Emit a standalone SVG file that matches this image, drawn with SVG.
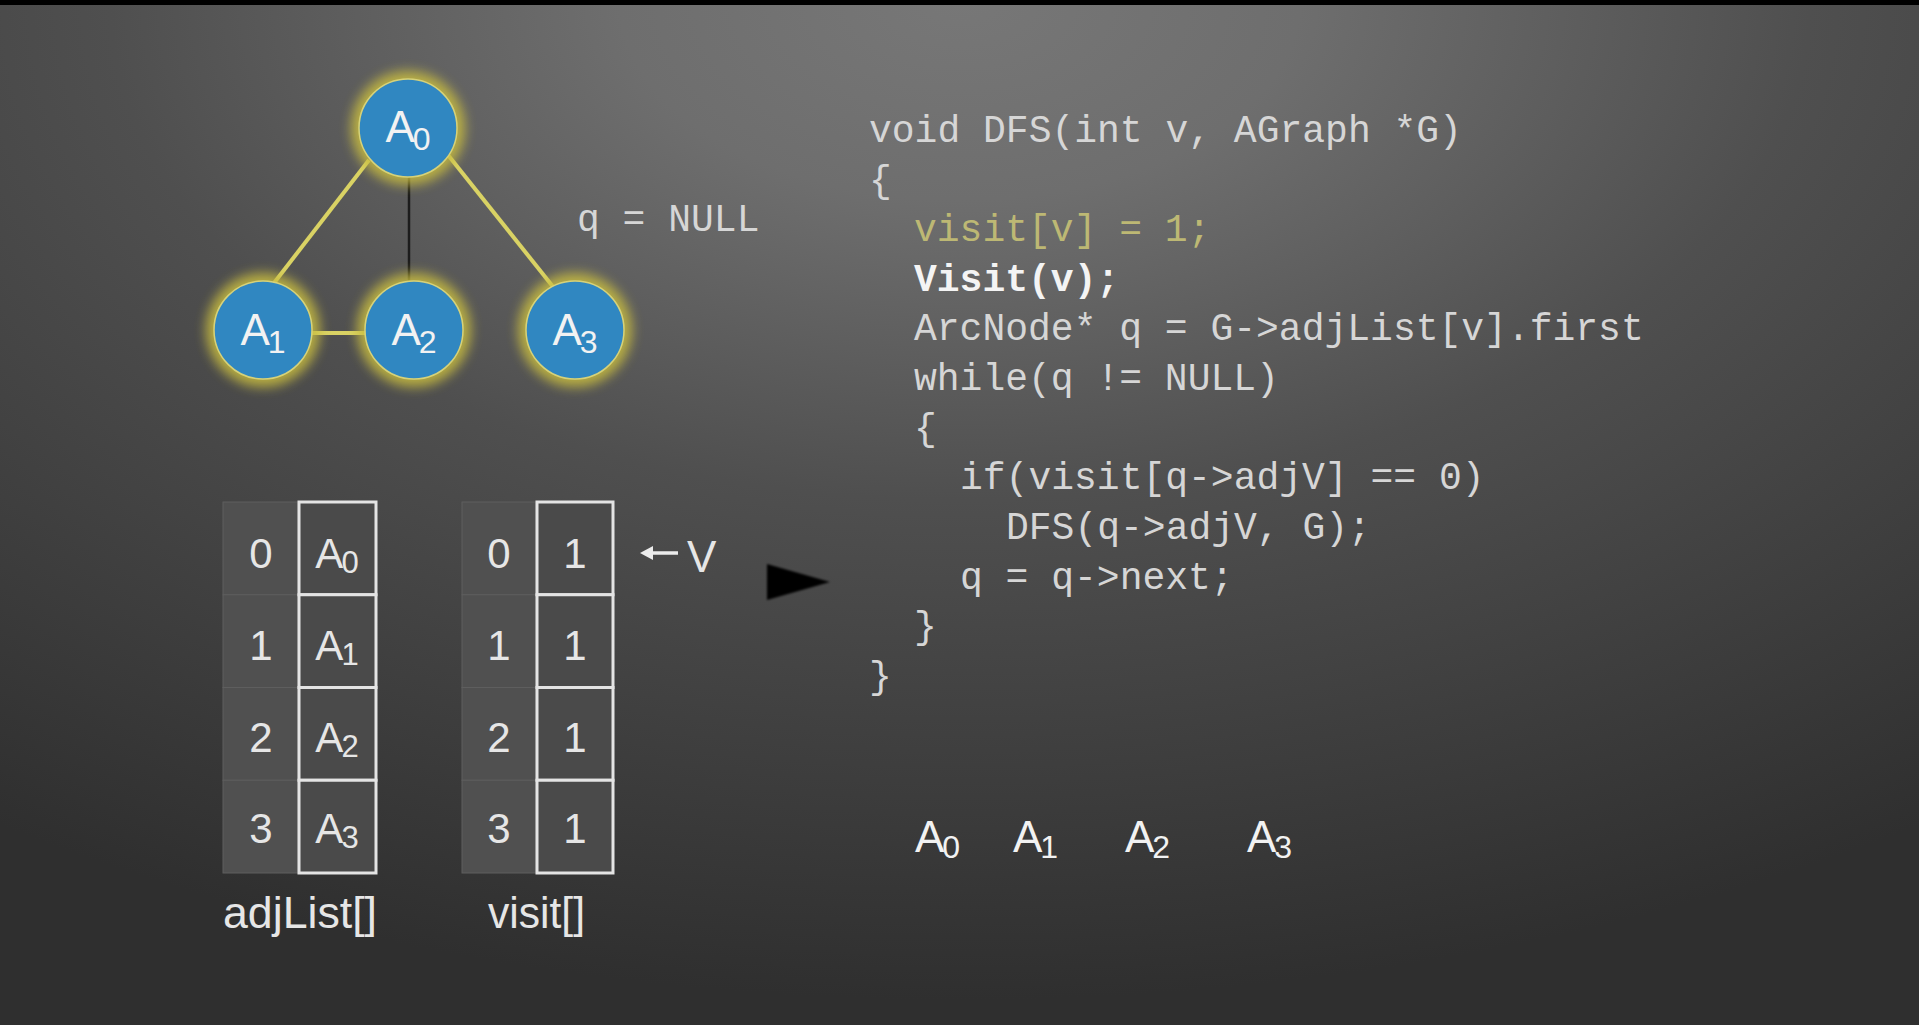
<svg xmlns="http://www.w3.org/2000/svg" width="1919" height="1025" viewBox="0 0 1919 1025">
  <defs>
    <radialGradient id="bg" gradientUnits="userSpaceOnUse" cx="960" cy="0" r="1000" gradientTransform="translate(960 0) scale(1.7 1) translate(-960 0)">
      <stop offset="0" stop-color="#777777"/>
      <stop offset="0.2" stop-color="#6e6e6e"/>
      <stop offset="0.5" stop-color="#4f4f4f"/>
      <stop offset="1" stop-color="#2f2f2f"/>
    </radialGradient>
    <filter id="halo" x="-50%" y="-50%" width="200%" height="200%">
      <feGaussianBlur stdDeviation="6"/>
    </filter>
    <filter id="soft" x="-20%" y="-20%" width="140%" height="140%">
      <feGaussianBlur stdDeviation="1"/>
    </filter>
    <style>
      .edge-hi { stroke: #d9d264; stroke-width: 4; fill: none; stroke-linecap: butt; }
      .edge-lo { stroke: #1c1c1c; stroke-width: 2.5; fill: none; }
      .glow { fill: #c9bd40; filter: url(#halo); opacity: 0.85; }
      .disc { fill: #3087c1; stroke: #d6d27a; stroke-width: 1.5; }
      .lbl { font-family: "Liberation Sans", Arial, sans-serif; font-size: 44px; fill: #f2f2f2; }
      .sub { font-size: 32px; }
      .code { font-family: "Liberation Mono", "Courier New", monospace; font-size: 38px; fill: #d6d6d6; }
      .hl { fill: #bdb874; }
      .bold { font-weight: bold; fill: #f4f4f4; }
      .idx { fill: #505050; stroke: #5e5e5e; stroke-width: 1; }
      .val { fill: #4a4a4a; stroke: #e4e4e4; stroke-width: 3; }
      .cell { font-family: "Liberation Sans", Arial, sans-serif; font-size: 42px; fill: #e6e6e6; text-anchor: middle; }
      .csub { font-size: 31px; }
      .cap { font-family: "Liberation Sans", Arial, sans-serif; font-size: 44px; fill: #e6e6e6; }
    </style>
  </defs>

  <!-- backdrop -->
  <rect x="0" y="0" width="1919" height="1025" fill="url(#bg)"/>
  <rect x="0" y="0" width="1919" height="5" fill="#000"/>

  <!-- graph edges -->
  <g id="connectors">
    <line class="edge-hi" x1="369" y1="160" x2="274" y2="283"/>
    <line class="edge-lo" x1="409" y1="176" x2="409" y2="282"/>
    <line class="edge-hi" x1="448" y1="155" x2="554" y2="288"/>
    <line class="edge-hi" x1="311" y1="333" x2="366" y2="333"/>
    <!-- pointer arrow next to the visit table -->
    <path d="M640 553 L653 546 L653 560 Z" fill="#ececec"/>
    <line x1="652" y1="553" x2="678" y2="553" stroke="#ececec" stroke-width="3.5"/>
    <!-- big step arrow -->
    <path d="M767 564 L830 582 L767 600 Z" fill="#000" filter="url(#soft)"/>
  </g>

  <!-- graph nodes -->
  <g id="node-A0">
    <circle class="glow" cx="408" cy="128" r="57"/>
    <circle class="disc" cx="408" cy="128" r="49"/>
    <text class="lbl" x="408" y="142" text-anchor="middle">A<tspan class="sub" dy="8" dx="-2">0</tspan></text>
  </g>
  <g id="node-A1">
    <circle class="glow" cx="263" cy="330" r="57"/>
    <circle class="disc" cx="263" cy="330" r="49"/>
    <text class="lbl" x="263" y="345" text-anchor="middle">A<tspan class="sub" dy="8" dx="-2">1</tspan></text>
  </g>
  <g id="node-A2">
    <circle class="glow" cx="414" cy="330" r="57"/>
    <circle class="disc" cx="414" cy="330" r="49"/>
    <text class="lbl" x="414" y="345" text-anchor="middle">A<tspan class="sub" dy="8" dx="-2">2</tspan></text>
  </g>
  <g id="node-A3">
    <circle class="glow" cx="575" cy="330" r="57"/>
    <circle class="disc" cx="575" cy="330" r="49"/>
    <text class="lbl" x="575" y="345" text-anchor="middle">A<tspan class="sub" dy="8" dx="-2">3</tspan></text>
  </g>

  <text id="q-null" class="code" x="577" y="231">q = NULL</text>

  <!-- adjacency list table -->
  <g id="adjList">
    <rect class="idx" x="223" y="502" width="75" height="92.75"/>
    <rect class="idx" x="223" y="594.75" width="75" height="92.75"/>
    <rect class="idx" x="223" y="687.5" width="75" height="92.75"/>
    <rect class="idx" x="223" y="780.25" width="75" height="92.75"/>
    <rect class="val" x="299" y="502" width="77" height="92.75"/>
    <rect class="val" x="299" y="594.75" width="77" height="92.75"/>
    <rect class="val" x="299" y="687.5" width="77" height="92.75"/>
    <rect class="val" x="299" y="780.25" width="77" height="92.75"/>
    <text class="cell" x="261" y="568">0</text>
    <text class="cell" x="261" y="660">1</text>
    <text class="cell" x="261" y="752">2</text>
    <text class="cell" x="261" y="843">3</text>
    <text class="cell" x="337" y="568">A<tspan class="csub" dy="5" dx="-2">0</tspan></text>
    <text class="cell" x="337" y="660">A<tspan class="csub" dy="5" dx="-2">1</tspan></text>
    <text class="cell" x="337" y="752">A<tspan class="csub" dy="5" dx="-2">2</tspan></text>
    <text class="cell" x="337" y="843">A<tspan class="csub" dy="5" dx="-2">3</tspan></text>
    <text class="cap" x="223" y="928" textLength="154" lengthAdjust="spacingAndGlyphs">adjList[]</text>
  </g>

  <!-- visit flag table -->
  <g id="visit">
    <rect class="idx" x="462" y="502" width="74" height="92.75"/>
    <rect class="idx" x="462" y="594.75" width="74" height="92.75"/>
    <rect class="idx" x="462" y="687.5" width="74" height="92.75"/>
    <rect class="idx" x="462" y="780.25" width="74" height="92.75"/>
    <rect class="val" x="537" y="502" width="76" height="92.75"/>
    <rect class="val" x="537" y="594.75" width="76" height="92.75"/>
    <rect class="val" x="537" y="687.5" width="76" height="92.75"/>
    <rect class="val" x="537" y="780.25" width="76" height="92.75"/>
    <text class="cell" x="499" y="568">0</text>
    <text class="cell" x="499" y="660">1</text>
    <text class="cell" x="499" y="752">2</text>
    <text class="cell" x="499" y="843">3</text>
    <text class="cell" x="575" y="568">1</text>
    <text class="cell" x="575" y="660">1</text>
    <text class="cell" x="575" y="752">1</text>
    <text class="cell" x="575" y="843">1</text>
    <text class="cap" x="488" y="928" textLength="97" lengthAdjust="spacingAndGlyphs">visit[]</text>
  </g>

  <text id="cursor-v" class="cap" x="687" y="572">V</text>

  <!-- DFS source listing -->
  <g id="code">
    <text class="code" x="869" y="142">void DFS(int v, AGraph *G)</text>
    <text class="code" x="869" y="192">{</text>
    <text class="code hl" x="914" y="241">visit[v] = 1;</text>
    <text class="code bold" x="914" y="291">Visit(v);</text>
    <text class="code" x="914" y="340">ArcNode* q = G-&gt;adjList[v].first</text>
    <text class="code" x="914" y="390">while(q != NULL)</text>
    <text class="code" x="914" y="440">{</text>
    <text class="code" x="960" y="489">if(visit[q-&gt;adjV] == 0)</text>
    <text class="code" x="1006" y="539">DFS(q-&gt;adjV, G);</text>
    <text class="code" x="960" y="589">q = q-&gt;next;</text>
    <text class="code" x="914" y="638">}</text>
    <text class="code" x="869" y="688">}</text>
  </g>

  <!-- visiting order output -->
  <g id="output">
    <text class="lbl" x="915" y="852" fill="#dcdcdc">A<tspan class="sub" dy="6" dx="-2">0</tspan></text>
    <text class="lbl" x="1013" y="852">A<tspan class="sub" dy="6" dx="-2">1</tspan></text>
    <text class="lbl" x="1125" y="852">A<tspan class="sub" dy="6" dx="-2">2</tspan></text>
    <text class="lbl" x="1247" y="852">A<tspan class="sub" dy="6" dx="-2">3</tspan></text>
  </g>
</svg>
